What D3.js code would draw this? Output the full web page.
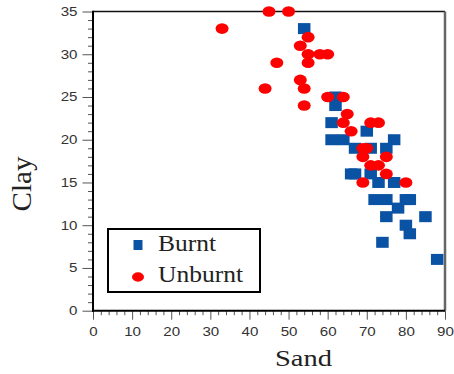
<!DOCTYPE html>
<html><head><meta charset="utf-8">
<script src="https://cdn.jsdelivr.net/npm/d3@7"></script>
<style>
html,body{margin:0;padding:0;background:#fff;}
svg{display:block;}
</style></head>
<body>
<svg id="chart" width="454" height="374"></svg>
<script>
// Data
const burntSand = [54,62,62,61,61,64,70,77,67,71,75,66,67,71,73,77,72,75,80,81,78,75,85,80,81,74,88];
const burntClay = [33,25,24,22,20,20,21,20,19,19,19,16,16,16,15,15,13,13,13,13,12,11,11,10,9,8,6];
const unburntSand = [45,50,33,55,53,55,58,60,55,47,53,54,44,54,60,64,65,64,71,73,66,69,70,69,75,71,73,75,69,80];
const unburntClay = [35,35,33,32,31,30,30,30,29,29,27,26,26,24,25,25,23,22,22,22,21,19,19,18,18,17,17,16,15,15];
const xTicks = [0,10,20,30,40,50,60,70,80,90];
const yTicks = [0,5,10,15,20,25,30,35];
const seriesNames = ["Burnt","Unburnt"];
const xTitle = "Sand", yTitle = "Clay";

const blue = "#0a52a3", red = "#ff0000";
const svg = d3.select("#chart");
const x = d3.scaleLinear().domain([0,90]).range([93,445]);
const y = d3.scaleLinear().domain([0,35]).range([310.7,11.5]);

const fitText = sel => sel.attr("textLength", function(){ return this.textContent.length*8.4; })
  .attr("lengthAdjust","spacingAndGlyphs");

// minor ticks
const xMinor = d3.range(0,91,2).filter(v=>v%10!==0);
const yMinor = d3.range(0,36,1).filter(v=>v%5!==0);
svg.append("g").attr("transform",`translate(0,${y(0)})`)
  .call(d3.axisBottom(x).tickValues(xMinor).tickSize(4.5).tickFormat(""))
  .call(g=>g.select(".domain").remove())
  .call(g=>g.selectAll("line").attr("stroke","#555"));
svg.append("g").attr("transform",`translate(${x(0)},0)`)
  .call(d3.axisLeft(y).tickValues(yMinor).tickSize(5).tickFormat(""))
  .call(g=>g.select(".domain").remove())
  .call(g=>g.selectAll("line").attr("stroke","#555"));

// major ticks
svg.append("g").attr("transform",`translate(0,${y(0)})`)
  .call(d3.axisBottom(x).tickValues(xTicks).tickSize(9).tickPadding(7))
  .call(g=>g.select(".domain").remove())
  .call(g=>g.selectAll("line").attr("stroke","#555"))
  .call(g=>g.selectAll("text").attr("font-family","'Liberation Sans',Arial,sans-serif").attr("font-size",12.5).attr("fill","#333").call(fitText));
svg.append("g").attr("transform",`translate(${x(0)},0)`)
  .call(d3.axisLeft(y).tickValues(yTicks).tickSize(10.5).tickPadding(5))
  .call(g=>g.select(".domain").remove())
  .call(g=>g.selectAll("line").attr("stroke","#555"))
  .call(g=>g.selectAll("text").attr("font-family","'Liberation Sans',Arial,sans-serif").attr("font-size",12.5).attr("fill","#333").call(fitText));

// frame
svg.append("line").attr("x1",x(0)).attr("x2",x(90)).attr("y1",y(35)).attr("y2",y(35)).attr("stroke","#111").attr("stroke-width",1.5);
svg.append("line").attr("x1",x(90)).attr("x2",x(90)).attr("y1",y(35)).attr("y2",y(0)).attr("stroke","#666").attr("stroke-width",2.5);
svg.append("line").attr("x1",x(0)).attr("x2",x(0)).attr("y1",y(35)-0.75).attr("y2",y(0)+1).attr("stroke","#000").attr("stroke-width",2);
svg.append("line").attr("x1",x(0)-1).attr("x2",x(90)).attr("y1",y(0)).attr("y2",y(0)).attr("stroke","#000").attr("stroke-width",2);

// points
const sw=12.5, sh=11;
svg.append("g").selectAll("rect").data(burntSand.map((s,i)=>[s,burntClay[i]])).join("rect")
  .attr("x",d=>x(d[0])-sw/2).attr("y",d=>y(d[1])-sh/2).attr("width",sw).attr("height",sh).attr("fill",blue);
svg.append("g").selectAll("ellipse").data(unburntSand.map((s,i)=>[s,unburntClay[i]])).join("ellipse")
  .attr("cx",d=>x(d[0])).attr("cy",d=>y(d[1])).attr("rx",6.5).attr("ry",5.3).attr("fill",red);

// legend
const lg = svg.append("g");
lg.append("rect").attr("x",108).attr("y",229).attr("width",152).attr("height",63).attr("fill","#fff").attr("stroke","#000").attr("stroke-width",2);
lg.append("rect").attr("x",133.5).attr("y",240).attr("width",9).attr("height",10).attr("fill",blue);
lg.append("ellipse").attr("cx",138).attr("cy",277).attr("rx",6).attr("ry",4.7).attr("fill",red);
lg.append("text").attr("x",158).attr("y",250.7).text(seriesNames[0])
  .attr("font-family","'Liberation Serif','Times New Roman',serif").attr("font-size",23).attr("fill","#222")
  .attr("textLength",58).attr("lengthAdjust","spacingAndGlyphs");
lg.append("text").attr("x",158).attr("y",281.7).text(seriesNames[1])
  .attr("font-family","'Liberation Serif','Times New Roman',serif").attr("font-size",23).attr("fill","#222")
  .attr("textLength",85).attr("lengthAdjust","spacingAndGlyphs");

// axis titles
svg.append("text").attr("x",275).attr("y",366).text(xTitle)
  .attr("font-family","'Liberation Serif','Times New Roman',serif").attr("font-size",24).attr("fill","#222")
  .attr("textLength",57).attr("lengthAdjust","spacingAndGlyphs");
svg.append("text").attr("transform","translate(31,211.5) rotate(-90)").text(yTitle)
  .attr("font-family","'Liberation Serif','Times New Roman',serif").attr("font-size",28).attr("fill","#222")
  .attr("textLength",55).attr("lengthAdjust","spacingAndGlyphs");
</script>
</body></html>
